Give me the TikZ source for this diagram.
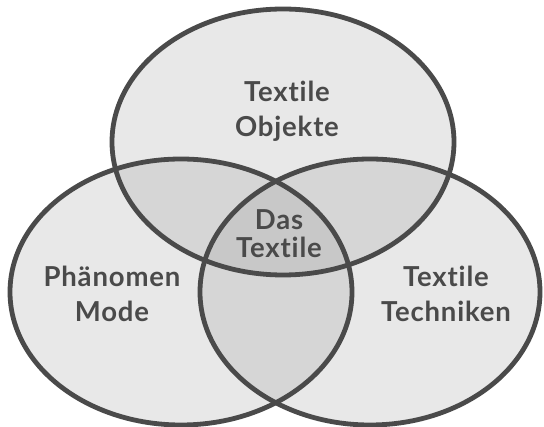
\documentclass[tikz,border=0pt]{standalone}
\usepackage{fontspec}
\setmainfont{Lato}[Ligatures=NoCommon, LetterSpace=3]
\begin{document}
\begin{tikzpicture}[x=1pt,y=-1pt]
\definecolor{single}{HTML}{E8E8E8}
\definecolor{pair}{HTML}{D6D6D6}
\definecolor{triple}{HTML}{C8C8C8}
\definecolor{ink}{HTML}{4A4A4A}
\tikzset{
  outline/.style={draw=ink, line width=4.8pt},
  label/.style={text=ink, font=\bfseries\fontsize{27.5}{34}\selectfont, align=center, inner sep=0pt},
}
\def\ovA{(283,142) ellipse [x radius=171pt, y radius=133pt]}
\def\ovB{(181,292) ellipse [x radius=171pt, y radius=133pt]}
\def\ovC{(370,292) ellipse [x radius=170pt, y radius=133pt]}
\useasboundingbox[fill=white] (0,0) rectangle (544,427);
\coordinate (cA) at (283,142);
\coordinate (cB) at (181,292);
\coordinate (cC) at (370,292);
% single fills
\fill[single] \ovA; \fill[single] \ovB; \fill[single] \ovC;
% pair fills
\begin{scope}\clip \ovA; \fill[pair] \ovB; \fill[pair] \ovC; \end{scope}
\begin{scope}\clip \ovB; \fill[pair] \ovC; \end{scope}
% triple
\begin{scope}\clip \ovA; \clip \ovB; \fill[triple] \ovC; \end{scope}
% outlines
\draw[outline] \ovA; \draw[outline] \ovB; \draw[outline] \ovC;
% labels
\node[label, anchor=base] (objA) at (287,102) {Textile};
\node[label, anchor=base] (objB) at (287,137) {Objekte};
\node[label, anchor=base] (dasA) at (279,230) {Das};
\node[label, anchor=base] (dasB) at (279,258) {Textile};
\node[label, anchor=base] (modA) at (112,287) {Phänomen};
\node[label, anchor=base] (modB) at (112,322) {Mode};
\node[label, anchor=base] (tecA) at (446,287) {Textile};
\node[label, anchor=base] (tecB) at (446,322) {Techniken};
\end{tikzpicture}
\end{document}
